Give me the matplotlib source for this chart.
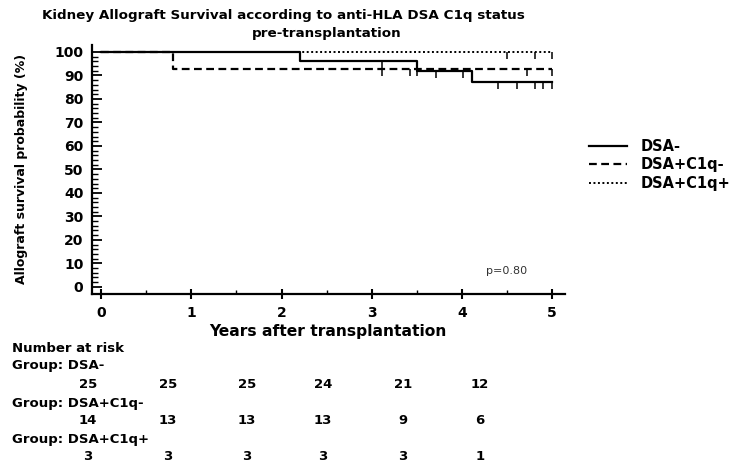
import numpy as np
import matplotlib
matplotlib.use('Agg')
import matplotlib.pyplot as plt
from matplotlib.ticker import MultipleLocator, FixedLocator

# survival steps (years, %)
dsa_neg_t = [0, 2.2, 3.5, 4.11, 5.0]
dsa_neg_s = [100, 96, 92, 87.4, 87.4]
dsa_neg_cens = [3.11, 3.71, 4.01, 4.40, 4.61, 4.81, 4.90, 5.0]

c1q_neg_t = [0, 0.80, 5.0]
c1q_neg_s = [100, 92.86, 92.86]
c1q_neg_cens = [3.11, 3.42, 3.50, 4.72, 5.0]

c1q_pos_t = [0, 5.0]
c1q_pos_s = [100, 100]
c1q_pos_cens = [4.50, 4.81, 5.0]

groups = ['DSA-', 'DSA+C1q-', 'DSA+C1q+']
risk_years = [0, 1, 2, 3, 4, 5]
at_risk = [
    [25, 25, 25, 24, 21, 12],
    [14, 13, 13, 13, 9, 6],
    [3, 3, 3, 3, 3, 1],
]

fig = plt.figure(figsize=(7.4, 4.68), dpi=100)
ax = fig.add_axes([0.124, 0.372, 0.639, 0.532])


def surv_at(t_steps, s_steps, t):
    i = np.searchsorted(t_steps, t, side='right') - 1
    return s_steps[i]


curves = [
    (dsa_neg_t, dsa_neg_s, dsa_neg_cens, '-', 1.6),
    (c1q_neg_t, c1q_neg_s, c1q_neg_cens, (0, (3.5, 2)), 1.6),
    (c1q_pos_t, c1q_pos_s, c1q_pos_cens, (0, (1, 1.3)), 1.4),
]
for (t, s, cens, ls, lw), name in zip(curves, groups):
    ax.step(t, s, where='post', color='black', linestyle=ls, linewidth=lw, label=name)
    cs = [surv_at(t, s, c) for c in cens]
    ax.vlines(cens, np.array(cs) - 3, cs, color='black', linewidth=1.1)

ax.set_xlim(-0.105, 5.14)
ax.set_ylim(-3, 103)
ax.set_xticks(risk_years)
ax.xaxis.set_minor_locator(MultipleLocator(0.5))
ax.set_yticks(range(0, 101, 10))
ax.yaxis.set_minor_locator(FixedLocator(range(0, 101, 2)))
for side in ['top', 'right']:
    ax.spines[side].set_visible(False)
for side in ['left', 'bottom']:
    ax.spines[side].set_linewidth(1.6)

ax.tick_params(axis='y', which='major', direction='in', length=7, width=1.3, pad=6)
ax.tick_params(axis='y', which='minor', direction='in', length=4, width=1)
ax.tick_params(axis='x', which='major', direction='inout', length=7, width=1.5, pad=5)
ax.tick_params(axis='x', which='minor', direction='in', length=3, width=1)
for lab in ax.get_xticklabels() + ax.get_yticklabels():
    lab.set_fontweight('bold')
    lab.set_fontsize(10)

ax.set_xlabel('Years after transplantation', fontsize=11.2, fontweight='bold', labelpad=3)
ax.set_ylabel('Allograft survival probability (%)', fontsize=9, fontweight='bold', labelpad=19)
ax.text(4.5, 6.8, 'p=0.80', fontsize=8, color='#333333', ha='center', va='center')

fig.text(283 / 740, 1 - 16 / 468, 'Kidney Allograft Survival according to anti-HLA DSA C1q status',
         ha='center', va='center', fontsize=9.7, fontweight='bold')
fig.text(327 / 740, 1 - 33 / 468, 'pre-transplantation',
         ha='center', va='center', fontsize=9.7, fontweight='bold')

ax.legend(loc='center left', bbox_to_anchor=(1.024, 0.518), frameon=False,
          prop={'weight': 'bold', 'size': 10.5}, handlelength=2.6, handletextpad=0.9,
          labelspacing=0.25)

# number at risk table
col_x = [88, 168, 247, 323, 403, 480]
fig.text(12 / 740, 1 - 348 / 468, 'Number at risk', fontsize=9.5, fontweight='bold', va='center')
row_y = [(365, 385), (403, 420), (440, 457)]
for name, counts, (gy, ny) in zip(groups, at_risk, row_y):
    fig.text(12 / 740, 1 - gy / 468, 'Group: ' + name, fontsize=9.5, fontweight='bold', va='center')
    for cx, n in zip(col_x, counts):
        fig.text(cx / 740, 1 - ny / 468, str(n), fontsize=9.5, fontweight='bold',
                 ha='center', va='center')

plt.savefig('out.png', dpi=100)
